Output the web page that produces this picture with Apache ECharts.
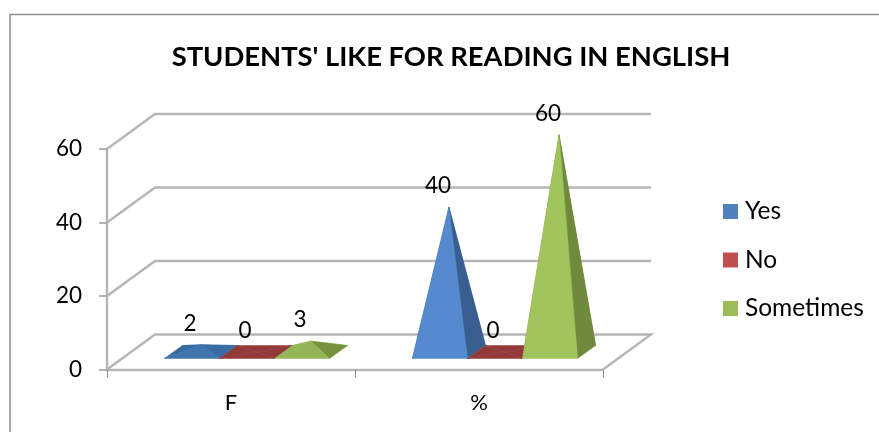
<!DOCTYPE html>
<html>
<head>
<meta charset="utf-8">
<style>html,body{margin:0;padding:0;background:#fff}#chart{width:879px;height:432px}</style>
<script src="https://cdn.jsdelivr.net/npm/echarts@6/dist/echarts.min.js"></script>
</head>
<body>
<div id="chart"></div>
<script>
// Chart values
var categories = ['F', '%'];
var yes = [2, 40];
var no = [0, 0];
var sometimes = [3, 60];
var yTicks = [0, 20, 40, 60];

// Pseudo-3D projection of the plot box
var WALL_DX = 48, WALL_DY = -35;     // depth of the side wall and floor
var FRONT_DX = 16, FRONT_DY = -11;   // where the pyramids' front edge stands on the floor
var BASE_DX = 18, BASE_DY = -13;     // depth of a pyramid's square base
var BAR_SHARE = 0.222;               // bar width as a share of the category band
var GRID_COLOR = '#b6b6b6';
var FONT = 'Lato, "Noto Sans", sans-serif';

var palette = {
  Yes: {
    legend: '#4f81bd',
    tall: { front: '#568ace', right: '#385f8f', left: '#385f8f', back: '#385f8f' },
    flat: { front: '#3f74ae', right: '#3a6ba3', left: '#35689f', back: '#3f74ae' }
  },
  No: {
    legend: '#c0504d',
    tall: { front: '#c0504d', right: '#953735', left: '#953735', back: '#953735' },
    flat: { front: '#923836', right: '#923836', left: '#923836', back: '#923836' }
  },
  Sometimes: {
    legend: '#9bbb59',
    tall: { front: '#a2c45c', right: '#6f8a3c', left: '#6f8a3c', back: '#6f8a3c' },
    flat: { front: '#93b555', right: '#76923c', left: '#93b555', back: '#93b555' }
  }
};

function pyramidSeries(name, values, slot) {
  return {
    name: name,
    type: 'custom',
    coordinateSystem: 'cartesian2d',
    itemStyle: { color: palette[name].legend },
    z: 3,
    encode: { x: 0, y: 1 },
    data: values.map(function (v, i) { return [i, v]; }),
    renderItem: function (params, api) {
      var v = api.value(1);
      var top = api.coord([api.value(0), v]);
      var zero = api.coord([api.value(0), 0]);
      var band = api.size([1, 0])[0];
      var w = band * BAR_SHARE;
      var fl = [zero[0] + FRONT_DX + (slot - 1.5) * w, zero[1] + FRONT_DY];
      var fr = [fl[0] + w, fl[1]];
      var br = [fr[0] + BASE_DX, fr[1] + BASE_DY];
      var bl = [fl[0] + BASE_DX, fl[1] + BASE_DY];
      var apex = [fl[0] + (w + BASE_DX) / 2, fl[1] + BASE_DY / 2 - (zero[1] - top[1]) * 0.985];
      var shade = palette[name][v <= 3 ? 'flat' : 'tall'];
      function face(a, b, fill) {
        return {
          type: 'polygon',
          shape: { points: [a, b, apex] },
          style: { fill: fill, stroke: fill, lineWidth: 0.5 }
        };
      }
      return {
        type: 'group',
        children: [
          face(bl, br, shade.back),
          face(fl, bl, shade.left),
          face(fr, br, shade.right),
          face(fl, fr, shade.front),
          {
            type: 'text',
            z2: 10,
            style: {
              text: String(v),
              x: apex[0] - 11,
              y: apex[1] - 21,
              align: 'center',
              verticalAlign: 'middle',
              fill: '#000',
              font: '22.5px ' + FONT
            }
          }
        ]
      };
    }
  };
}

var wallSeries = {
  type: 'custom',
  coordinateSystem: 'cartesian2d',
  silent: true,
  legendHoverLink: false,
  z: 1,
  encode: { y: 0 },
  data: yTicks.map(function (t) { return [0, t]; }),
  renderItem: function (params, api) {
    var t = api.value(1);
    var y = api.coord([0, t])[1];
    var x0 = params.coordSys.x;
    var x1 = x0 + params.coordSys.width;
    var pts = [[x0, y], [x0 + WALL_DX, y + WALL_DY], [x1 + WALL_DX, y + WALL_DY]];
    if (t === 0) pts.push([x1, y]);
    return {
      type: 'polyline',
      shape: { points: pts },
      style: { fill: 'none', stroke: GRID_COLOR, lineWidth: 2.4 }
    };
  }
};

var chart = echarts.init(document.getElementById('chart'), null, { renderer: 'canvas' });
chart.setOption({
  animation: false,
  backgroundColor: '#fff',
  title: {
    text: "STUDENTS' LIKE FOR READING IN ENGLISH",
    left: 446,
    top: 39,
    textAlign: 'center',
    textStyle: { fontFamily: FONT, fontWeight: 'bold', fontSize: 27.4, color: '#000' }
  },
  legend: {
    orient: 'vertical',
    left: 718,
    top: 194,
    icon: 'rect',
    itemWidth: 15,
    itemHeight: 15,
    itemGap: 23.5,
    data: ['Yes', 'No', 'Sometimes'],
    textStyle: { fontFamily: FONT, fontSize: 24.5, color: '#000', padding: [0, 0, 0, 2] }
  },
  grid: { left: 107, width: 496, top: 149, height: 220.5 },
  xAxis: {
    type: 'category',
    data: categories,
    boundaryGap: true,
    axisLine: { lineStyle: { color: GRID_COLOR, width: 2.4 } },
    axisTick: { show: true, length: 8, lineStyle: { color: '#8c8c8c', width: 1 } },
    axisLabel: { color: '#000', fontSize: 22, margin: 22, fontFamily: FONT }
  },
  yAxis: {
    type: 'value',
    min: 0,
    max: 60,
    interval: 20,
    axisLine: { show: true, lineStyle: { color: GRID_COLOR, width: 2.4 } },
    axisTick: { show: true, length: 8, lineStyle: { color: '#9a9a9a', width: 1.5 } },
    splitLine: { show: false },
    axisLabel: { color: '#000', fontSize: 22.5, margin: 25, padding: [3, 0, 0, 0], fontFamily: FONT }
  },
  series: [
    wallSeries,
    pyramidSeries('Yes', yes, 0),
    pyramidSeries('No', no, 1),
    pyramidSeries('Sometimes', sometimes, 2)
  ],
  graphic: [{
    type: 'polyline',
    silent: true,
    shape: { points: [[10, 432], [10, 14.5], [879, 14.5]] },
    style: { fill: 'none', stroke: '#8c8c8c', lineWidth: 1.5 }
  }]
});
</script>
</body>
</html>
